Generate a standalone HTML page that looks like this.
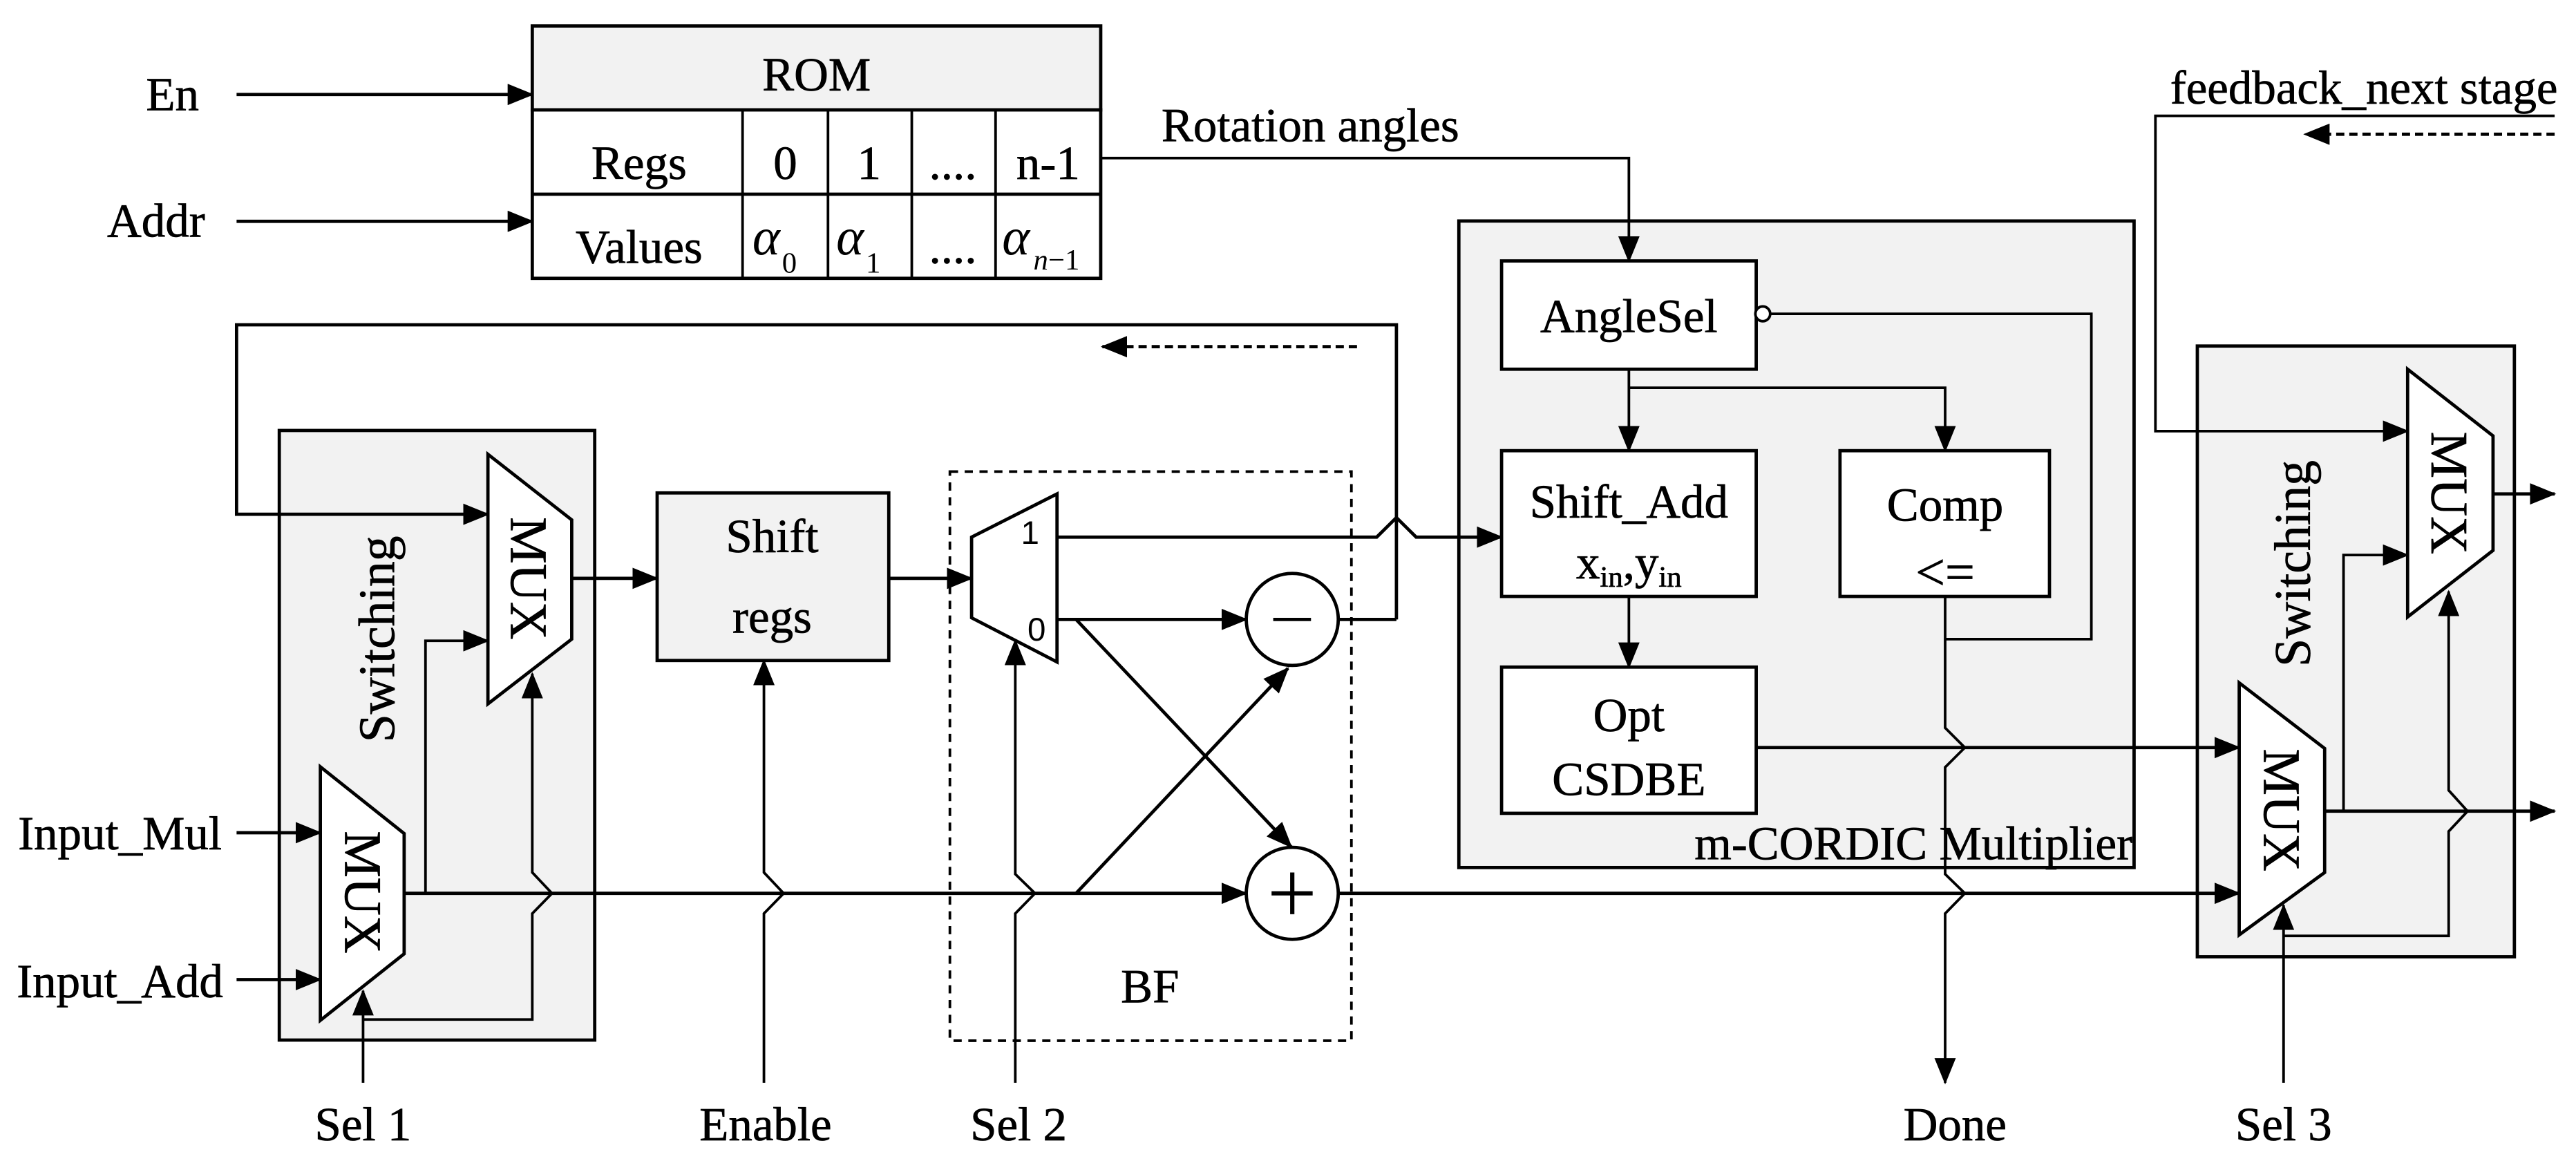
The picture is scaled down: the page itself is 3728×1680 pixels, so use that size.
<!DOCTYPE html>
<html><head><meta charset="utf-8"><style>html,body{margin:0;padding:0;background:#fff}svg{display:block}</style></head>
<body>
<svg xmlns="http://www.w3.org/2000/svg" width="3728" height="1680" viewBox="0 0 1568 706.6" font-family="'Liberation Serif',serif" font-size="29">
<defs>
<marker id="a" markerUnits="userSpaceOnUse" markerWidth="16" markerHeight="13" refX="15" refY="6.5" orient="auto"><path d="M0,0 L16,6.5 L0,13 Z" fill="#000"/></marker>
</defs>
<rect width="1568" height="706.6" fill="#fff"/>
<g fill="none" stroke="#000" stroke-width="2">
<rect x="170" y="262" width="192" height="371" fill="#f2f2f2"/>
<rect x="888" y="134.5" width="411" height="393.5" fill="#f2f2f2"/>
<rect x="1337.5" y="210.6" width="193" height="371.7" fill="#f2f2f2"/>
<rect x="400" y="300" width="141" height="102" fill="#f2f2f2"/>
<rect x="578.2" y="287" width="244.4" height="346.4" stroke-dasharray="5,4" stroke-width="1.6"/>
<rect x="324" y="15.8" width="346" height="51.1" fill="#f2f2f2"/>
<rect x="324" y="66.9" width="346" height="102.5" fill="#fff"/>
<line x1="324" y1="118.2" x2="670" y2="118.2"/>
<path d="M452 66.9V169.4M504 66.9V169.4M555 66.9V169.4M606 66.9V169.4" stroke-width="1.6"/>
<rect x="914" y="158.8" width="155" height="65.9" fill="#fff"/>
<rect x="914" y="274.3" width="155" height="88.7" fill="#fff"/>
<rect x="1120" y="274.3" width="127.5" height="88.7" fill="#fff"/>
<rect x="914" y="406" width="155" height="89" fill="#fff"/>
<polygon points="297,276.5 348,316.4 348,389 297,428.4" fill="#fff"/>
<polygon points="195,466.7 246,507.3 246,580.5 195,621" fill="#fff"/>
<polygon points="591.4,326.9 643.4,300.6 643.4,402.9 591.4,376" fill="#fff"/>
<polygon points="1465.5,224.7 1517.5,265.3 1517.5,335 1465.5,375.5" fill="#fff"/>
<polygon points="1363,415.6 1415,455.5 1415,531 1363,569" fill="#fff"/>
<circle cx="786.6" cy="377" r="28" fill="#fff"/>
<circle cx="786.6" cy="543.7" r="28" fill="#fff"/>
<line x1="144" y1="57.5" x2="324" y2="57.5" marker-end="url(#a)"/>
<line x1="144" y1="134.7" x2="324" y2="134.7" marker-end="url(#a)"/>
<path d="M670 96.2H991.5V158.8" marker-end="url(#a)" stroke-width="1.6"/>
<path d="M850 377V197.7H144V313H297" marker-end="url(#a)"/>
<line x1="826" y1="211" x2="671" y2="211" stroke-dasharray="5,3" marker-end="url(#a)"/>
<line x1="144" y1="506.8" x2="195" y2="506.8" marker-end="url(#a)"/>
<line x1="144" y1="596.2" x2="195" y2="596.2" marker-end="url(#a)"/>
<path d="M246 543.7H758.6" marker-end="url(#a)"/>
<path d="M259 543.7V390H297" marker-end="url(#a)" stroke-width="1.6"/>
<path d="M221 659V603" marker-end="url(#a)" stroke-width="1.6"/>
<path d="M221 620.5H324V556L336 543.7L324 531V410" marker-end="url(#a)" stroke-width="1.6"/>
<path d="M348 352H400" marker-end="url(#a)"/>
<path d="M465 659V556L477 543.7L465 531V402" marker-end="url(#a)" stroke-width="1.6"/>
<path d="M541 352H591.4" marker-end="url(#a)"/>
<path d="M618 659V556L630 543.7L618 532V389.8" marker-end="url(#a)" stroke-width="1.6"/>
<path d="M643.4 326.9H838L850 315L862 326.9H914" marker-end="url(#a)"/>
<path d="M643.4 377H758.6" marker-end="url(#a)"/>
<path d="M655 377L786 515.5" marker-end="url(#a)"/>
<path d="M655 543.7L784 406.7" marker-end="url(#a)"/>
<path d="M814.6 377H850"/>
<path d="M814.6 543.7H1363" marker-end="url(#a)"/>
<path d="M991.5 224.7V274.3" marker-end="url(#a)" stroke-width="1.6"/>
<path d="M991.5 236H1184V274.3" marker-end="url(#a)" stroke-width="1.6"/>
<path d="M991.5 363V406" marker-end="url(#a)" stroke-width="1.6"/>
<path d="M1077 191H1273V389H1184" stroke-width="1.6"/>
<circle cx="1073" cy="191" r="4.5" fill="#fff" stroke-width="1.6"/>
<path d="M1184 363V443L1196 455L1184 467V532L1196 543.7L1184 556V659" marker-end="url(#a)" stroke-width="1.6"/>
<path d="M1069 455H1363" marker-end="url(#a)"/>
<path d="M1555 70.5H1312V262.4H1465.5" marker-end="url(#a)" stroke-width="1.6"/>
<line x1="1555" y1="81.7" x2="1403" y2="81.7" stroke-dasharray="5,3" marker-end="url(#a)"/>
<path d="M1517.5 300.6H1555" marker-end="url(#a)"/>
<path d="M1415 493.7H1555" marker-end="url(#a)"/>
<path d="M1426.5 493.7V337.8H1465.5" marker-end="url(#a)" stroke-width="1.6"/>
<path d="M1390 659V551" marker-end="url(#a)" stroke-width="1.6"/>
<path d="M1390 569.6H1490.5V506L1502 493.7L1490.5 481V360" marker-end="url(#a)" stroke-width="1.6"/>
</g>
<line x1="775" y1="377" x2="798" y2="377" stroke="#000" stroke-width="2"/>
<path d="M774 543.7H799M786.6 531V556.4" stroke="#000" stroke-width="2.6"/>
<g text-anchor="middle" fill="#000" stroke="#000" stroke-width="0.3">
<text x="497" y="55">ROM</text>
<text x="389" y="109">Regs</text>
<text x="478" y="109">0</text>
<text x="529" y="109">1</text>
<text x="580" y="109">....</text>
<text x="638" y="109">n-1</text>
<text x="389" y="160">Values</text>
<text x="580" y="160">....</text>
<text x="991.5" y="202">AngleSel</text>
<text x="991.5" y="315">Shift_Add</text>
<text x="991.5" y="352">x<tspan font-size="18" dy="5">in</tspan><tspan dy="-5">,y</tspan><tspan font-size="18" dy="5">in</tspan></text>
<text x="1184" y="317">Comp</text>
<text x="1184" y="359" font-size="32">&lt;=</text>
<text x="991.5" y="445">Opt</text>
<text x="991.5" y="484">CSDBE</text>
<text x="470" y="336">Shift</text>
<text x="470" y="385">regs</text>
<text x="700" y="610">BF</text>
<text x="221" y="694">Sel 1</text>
<text x="466" y="694">Enable</text>
<text x="620" y="694">Sel 2</text>
<text x="1190" y="694">Done</text>
<text x="1390" y="694">Sel 3</text>
<text x="105" y="67">En</text>
<text x="95" y="144">Addr</text>
<text x="73" y="517">Input_Mul</text>
<text x="73" y="607">Input_Add</text>
<text transform="translate(311,352) rotate(90)" font-size="32">MUX</text>
<text transform="translate(210,543) rotate(90)" font-size="32">MUX</text>
<text transform="translate(1480,300) rotate(90)" font-size="32">MUX</text>
<text transform="translate(1378,493) rotate(90)" font-size="32">MUX</text>
<text transform="translate(240,389) rotate(-90)" font-size="31">Switching</text>
<text transform="translate(1406,343) rotate(-90)" font-size="31">Switching</text>
</g>
<g fill="#000" stroke="#000" stroke-width="0.3">
<text x="707" y="86">Rotation angles</text>
<text x="1321" y="63">feedback_next stage</text>
<text x="1298" y="523" text-anchor="end">m-CORDIC Multiplier</text>
<text x="627" y="331" font-family="'Liberation Sans',sans-serif" font-size="20" text-anchor="middle" stroke-width="0">1</text>
<text x="631" y="390" font-family="'Liberation Sans',sans-serif" font-size="20" text-anchor="middle" stroke-width="0">0</text>
<g font-style="italic" font-size="32" stroke-width="0"><text x="458" y="155">α</text><text x="509" y="155">α</text><text x="610" y="155">α</text></g>
<g font-size="18" stroke-width="0"><text x="476" y="166">0</text><text x="527" y="166">1</text><text x="629" y="164"><tspan font-style="italic">n</tspan>−1</text></g>
</g>
</svg>
</body></html>
